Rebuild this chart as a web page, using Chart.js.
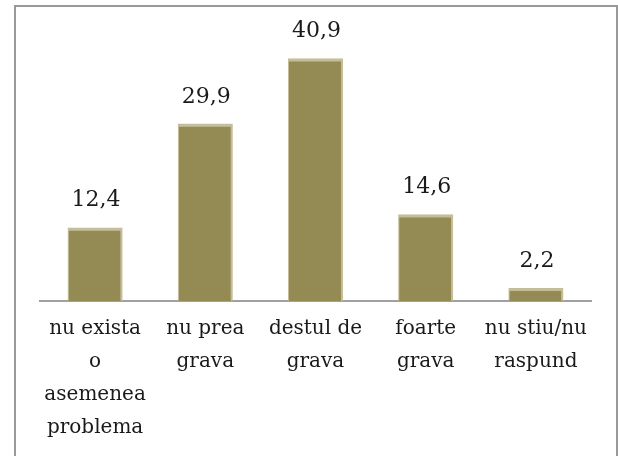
<!DOCTYPE html>
<html>
<head>
<meta charset="utf-8">
<script src="https://cdn.jsdelivr.net/npm/chart.js@4"></script>
<style>
  html, body { margin: 0; padding: 0; background: #fff; }
  #wrap { position: relative; width: 618px; height: 456px; overflow: hidden; }
  #frame {
    position: absolute; left: 14px; top: 5px; width: 604px; height: 480px;
    box-sizing: border-box; border: 2px solid #999;
  }
  canvas { position: absolute; left: 0; top: 0; }
</style>
</head>
<body>
<div id="wrap">
  <div id="frame"></div>
  <canvas id="bar-chart" width="618" height="456"></canvas>
</div>
<script>
// Chart data
const categories = [
  ['nu exista', 'o', 'asemenea', 'problema'],
  ['nu prea', 'grava'],
  ['destul de', 'grava'],
  ['foarte', 'grava'],
  ['nu stiu/nu', 'raspund']
];
const values = [12.4, 29.9, 40.9, 14.6, 2.2];
const valueLabels = ['12,4', '29,9', '40,9', '14,6', '2,2'];

// Draws the number above each bar
const valueLabelPlugin = {
  id: 'valueLabels',
  afterDatasetsDraw(chart) {
    const ctx = chart.ctx;
    const meta = chart.getDatasetMeta(0);
    ctx.save();
    ctx.font = '22px "DejaVu Serif"';
    ctx.fillStyle = '#1a1a1a';
    ctx.textAlign = 'center';
    ctx.textBaseline = 'alphabetic';
    meta.data.forEach(function (bar, i) {
      ctx.fillText(valueLabels[i], bar.x + 1, bar.y - 21);
    });
    ctx.restore();
  }
};

const ctx = document.getElementById('bar-chart').getContext('2d');

const chart = new Chart(ctx, {
  type: 'bar',
  data: {
    labels: categories,
    datasets: [{
      data: values,
      backgroundColor: '#948A54',
      borderColor: '#C4BD97',
      borderWidth: { top: 3, left: 1, right: 2, bottom: 0 },
      borderSkipped: 'bottom',
      categoryPercentage: 1,
      barPercentage: 0.5
    }]
  },
  options: {
    responsive: false,
    animation: false,
    layout: { padding: { left: 40, right: 27, top: 34, bottom: 0 } },
    plugins: {
      legend: { display: false },
      tooltip: { enabled: false }
    },
    scales: {
      y: {
        display: false,
        min: 0,
        max: 45
      },
      x: {
        grid: { display: false, drawTicks: false },
        border: { display: true, color: '#a0a0a0', width: 2 },
        ticks: {
          color: '#1a1a1a',
          font: { family: '"DejaVu Serif"', size: 20, lineHeight: 1.65 },
          padding: 11,
          maxRotation: 0,
          autoSkip: false
        },
        afterFit: function (axis) {
          axis.height = 155;
        }
      }
    }
  },
  plugins: [valueLabelPlugin]
});
</script>
</body>
</html>
